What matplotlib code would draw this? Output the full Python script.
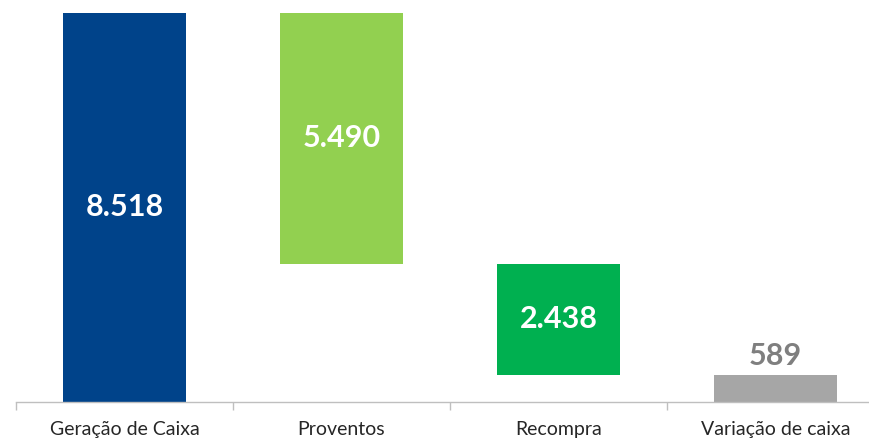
import matplotlib
matplotlib.use("Agg")
import matplotlib.pyplot as plt

# Cash flow waterfall (R$ millions)
categories = ["Geração de Caixa", "Proventos", "Recompra", "Variação de caixa"]
values = [8518, -5490, -2438, 589]
labels = ["8.518", "5.490", "2.438", "589"]
colors = ["#00438A", "#92D050", "#00B050", "#A6A6A6"]
label_colors = ["white", "white", "white", "#7F7F7F"]

plt.rcParams["font.family"] = ["Lato", "DejaVu Sans"]

W, H = 869, 438
fig = plt.figure(figsize=(W / 100, H / 100), dpi=100)
left_px, right_px = 16, 884
base_px, top_px = 402, 13
ax = fig.add_axes([left_px / W, (H - base_px) / H,
                   (right_px - left_px) / W, (base_px - top_px) / H])

# Floating bottoms: first and last start at zero, middle steps descend
bottoms = []
running = 0
for i, v in enumerate(values):
    if i == 0 or i == len(values) - 1:
        bottoms.append(0)
        running = v if i == 0 else running
    else:
        running += v
        bottoms.append(running)
heights = [abs(v) for v in values]

x = list(range(len(categories)))
ax.bar(x, heights, bottom=bottoms, width=0.57, color=colors, edgecolor="none")

for i in x:
    if i == len(values) - 1:
        ax.text(i, bottoms[i] + heights[i] + 110, labels[i], ha="center", va="bottom",
                fontsize=22, fontweight="bold", color=label_colors[i])
    else:
        ax.text(i, bottoms[i] + heights[i] / 2, labels[i], ha="center", va="center",
                fontsize=22, fontweight="bold", color=label_colors[i])

ax.set_xlim(-0.5, 3.5)
ax.set_ylim(0, 8518)
for s in ["top", "right", "left"]:
    ax.spines[s].set_visible(False)
ax.spines["bottom"].set_color("#BFBFBF")
ax.spines["bottom"].set_linewidth(1)
ax.set_yticks([])

# Tick marks sit at category boundaries, labels at centers
ax.set_xticks([-0.5, 0.5, 1.5, 2.5], minor=False)
ax.set_xticklabels([])
ax.tick_params(axis="x", which="major", length=6, color="#BFBFBF", width=1)
ax.set_xticks(x, minor=True)
ax.set_xticklabels(categories, minor=True)
ax.tick_params(axis="x", which="minor", length=0, pad=14, labelsize=14, labelcolor="#262626")

fig.savefig("out.png", dpi=100)
